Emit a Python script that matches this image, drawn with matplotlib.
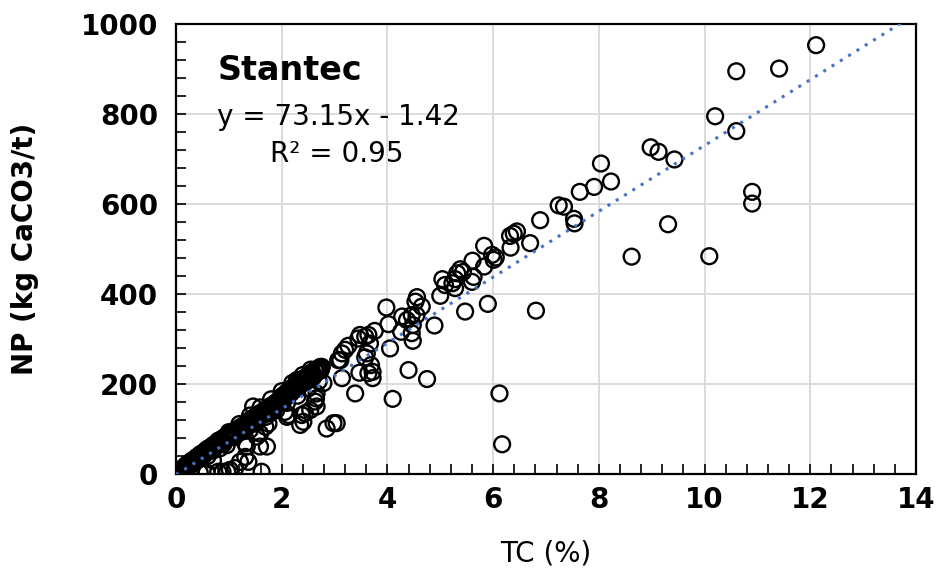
import matplotlib
matplotlib.use("Agg")
import matplotlib.pyplot as plt
from matplotlib.ticker import MultipleLocator

# Dense band near the origin (TC %, NP kg CaCO3/t)
band_tc = [0.02,0.03,0.05,0.06,0.08,0.10,0.10,0.12,0.14,0.15,0.17,0.18,0.20,0.21,0.23,0.25,0.26,0.28,0.30,0.31,
           0.33,0.35,0.36,0.38,0.40,0.41,0.43,0.45,0.46,0.48,0.50,0.52,0.54,0.55,0.57,0.60,0.62,0.64,0.66,0.68,
           0.70,0.72,0.74,0.76,0.78,0.80,0.82,0.85,0.87,0.90,0.92,0.95,0.97,1.00,1.02,1.05,1.07,1.10,1.12,1.15,
           1.18,1.20,1.22,1.25,1.28,1.30,1.33,1.36,1.38,1.40,1.42,1.45,1.48,1.50,1.53,1.55,1.58,1.60,1.63,1.66,
           1.68,1.70,1.73,1.76,1.78,1.80,1.83,1.86,1.88,1.90,1.93,1.96,1.98,2.00,2.03,2.06,2.08,2.10,2.13,2.16,
           2.18,2.20,2.23,2.26,2.28,2.30,2.33,2.36,2.38,2.40,2.43,2.46,2.48,2.50,2.53,2.56,2.58,2.60,2.63,2.66,
           2.68,2.70,2.72,2.74,2.76,
           0.20,0.40,0.60,0.80,1.00,1.20,1.40,1.60,1.80,2.00,2.20,2.40,2.55,
           0.30,0.50,0.70,0.90,1.10,1.30,1.50,1.70,1.90,2.10,2.30,2.50,2.70]
band_np = [2,0,5,3,8,6,10,12,9,15,14,18,17,22,20,24,19,28,25,30,
           27,33,30,35,38,31,40,36,44,40,46,43,50,45,53,50,57,52,60,55,
           64,58,67,62,70,65,74,70,78,73,82,77,86,80,90,84,93,88,97,92,
           100,95,104,98,108,103,112,107,116,120,111,124,118,128,122,132,127,136,131,140,
           134,144,138,148,142,152,146,156,150,160,155,164,170,160,175,168,180,173,185,178,
           190,183,195,188,200,193,205,198,210,203,213,207,218,212,222,216,226,220,230,225,
           234,228,236,231,238,
           20,38,56,74,93,111,130,148,166,184,202,220,232,
           22,37,52,67,82,97,112,127,142,158,174,190,206]

# Scattered points
scat_tc = [0.45,0.58,0.80,0.88,0.97,1.62,1.02,1.12,1.21,1.37,1.31,1.59,1.72,0.96,0.83,1.34,1.31,1.59,1.40,1.53,
           1.69,1.75,1.78,1.65,2.10,2.35,2.41,2.63,2.54,2.85,2.98,2.13,1.46,0.70,0.60,
           2.38,2.44,3.04,2.06,2.29,2.25,2.00,2.79,2.66,2.66,2.65,2.63,2.73,2.54,2.60,
           3.26,3.20,3.14,3.11,3.07,3.47,3.69,3.72,3.72,3.64,4.40,4.75,3.14,3.39,4.10,6.12,6.17,
           3.76,3.64,3.58,3.48,3.45,3.67,3.61,3.58,3.98,4.02,4.05,4.26,4.56,4.53,4.65,4.55,4.46,4.28,
           4.37,4.48,4.46,4.48,4.89,
           5.00,5.09,5.04,5.23,5.28,5.63,5.60,5.38,5.32,5.43,5.28,5.61,5.83,5.98,6.01,6.05,5.83,5.90,5.47,6.81,
           6.33,6.70,6.45,6.39,6.32,6.89,7.24,7.34,7.53,7.54,7.64,7.91,8.04,8.23,8.98,9.13,9.43,9.31,8.62,10.09,
           10.90,10.90,10.60,10.20,10.60,11.41,12.11]
scat_np = [3,3,5,5,5,5,9,13,27,27,38,61,61,64,57,61,68,90,98,83,
           105,112,135,131,127,109,116,161,142,101,113,131,150,30,40,
           131,135,113,138,209,194,172,202,179,150,168,231,238,224,216,
           285,276,268,253,253,225,242,227,213,224,231,211,213,179,167,179,66,
           318,309,305,309,301,290,268,259,370,333,279,316,393,383,372,353,353,350,
           342,331,313,296,330,
           396,420,433,424,413,438,427,455,446,449,433,474,461,487,476,481,507,378,361,363,
           503,513,539,534,529,564,597,594,567,557,627,638,690,650,726,716,699,555,483,484,
           601,627,762,795,895,901,953]

slope = 73.15
intercept = -1.42
trend_x = [0, 14]

x_ticks = [0, 2, 4, 6, 8, 10, 12, 14]
y_ticks = [0, 200, 400, 600, 800, 1000]

fig = plt.figure(figsize=(9.37, 5.76), dpi=100)
ax = fig.add_axes([0.1878, 0.1771, 0.7898, 0.7812])

ax.grid(True, which="major", color="#d9d9d9", linewidth=1.3, zorder=0)
ax.set_axisbelow(True)

ax.scatter(band_tc + scat_tc, band_np + scat_np, s=130, facecolors="none",
           edgecolors="black", linewidths=1.7, zorder=3)

ty = [slope * t + intercept for t in trend_x]
ax.plot(trend_x, ty, linestyle=(0, (1, 2.2)), color="#4472C4", linewidth=2.2, zorder=4)

ax.set_xlim(0, 14)
ax.set_ylim(0, 1000)
ax.set_xticks(x_ticks)
ax.set_yticks(y_ticks)
ax.xaxis.set_minor_locator(MultipleLocator(0.4))
ax.yaxis.set_minor_locator(MultipleLocator(40))
ax.tick_params(which="both", direction="in", length=7, width=1.2, top=False, right=False)
ax.tick_params(axis="x", which="major", pad=9)
ax.tick_params(axis="y", which="major", pad=13)
for lab in ax.get_xticklabels() + ax.get_yticklabels():
    lab.set_fontsize(20)
    lab.set_fontweight("bold")
for sp in ax.spines.values():
    sp.set_linewidth(1.6)
    sp.set_color("black")

ax.set_xlabel("TC (%)", fontsize=20, labelpad=18)
ax.set_ylabel("NP (kg CaCO3/t)", fontsize=20, fontweight="bold", labelpad=30)

ax.text(0.78, 876, "Stantec", fontsize=24, fontweight="bold", ha="left", va="baseline", zorder=5)
ax.text(0.78, 776, "y = 73.15x - 1.42", fontsize=20, ha="left", va="baseline", zorder=5)
ax.text(3.05, 693, "R² = 0.95", fontsize=20, ha="center", va="baseline", zorder=5)

fig.savefig("out.png", dpi=100)
